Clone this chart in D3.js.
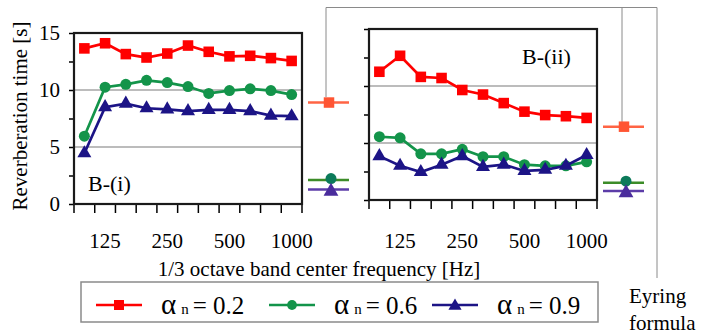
<!DOCTYPE html>
<html>
<head>
<meta charset="utf-8">
<script src="https://cdn.jsdelivr.net/npm/d3@7"></script>
<style>
  html, body { margin: 0; padding: 0; background: #fff; }
  svg text { font-family: "Liberation Serif", "DejaVu Serif", serif; fill: #000; }
</style>
</head>
<body>
<div id="chart"></div>
<script>
// 1/3 octave bands and the labelled ones
const bands = ["100", "125", "160", "200", "250", "315", "400", "500", "630", "800", "1000"];
const tickLabels = ["125", "250", "500", "1000"];

// B-(i) measured reverberation times [s]
const leftRed   = [13.65, 14.1, 13.15, 12.85, 13.2, 13.9, 13.35, 12.95, 13.0, 12.8, 12.55];
const leftGreen = [5.95, 10.25, 10.5, 10.85, 10.65, 10.3, 9.7, 9.95, 10.1, 9.95, 9.6];
const leftBlue  = [4.45, 8.5, 8.8, 8.4, 8.3, 8.15, 8.25, 8.25, 8.15, 7.75, 7.7];

// B-(ii)
const rightRed   = [11.25, 12.65, 10.8, 10.7, 9.65, 9.25, 8.5, 7.75, 7.45, 7.35, 7.2];
const rightGreen = [5.55, 5.45, 4.05, 4.05, 4.45, 3.8, 3.8, 3.1, 3.0, 3.0, 3.35];
const rightBlue  = [3.85, 3.0, 2.45, 3.1, 3.85, 2.9, 3.1, 2.55, 2.65, 3.0, 3.95];

// Eyring formula values (0.2, 0.6, 0.9)
const eyringLeft  = [8.9, 2.1, 1.28];
const eyringRight = [6.43, 1.52, 0.8];

const alphaLabels = ["0.2", "0.6", "0.9"];

const W = 702, H = 336;
const FONT = "'Liberation Serif', 'DejaVu Serif', serif";
const colors = ["#ff0000", "#13944a", "#1c1486"];
const eyLine = ["#ff6444", "#3c8c28", "#5c3ca8"];
const eyMark = ["#ff5533", "#0c7a5a", "#4a2c9c"];
const symbols = [d3.symbolSquare, d3.symbolCircle, d3.symbolTriangle];
const symSize = [112, 95, 85];

const svg = d3.select("#chart").append("svg")
    .attr("width", W)
    .attr("height", H)
    .attr("font-family", FONT);

// gray connector lines to the Eyring label
svg.append("path")
    .attr("d", "M326,7.5H657V278 M622,7.5V122 M326,7.5V97")
    .attr("fill", "none")
    .attr("stroke", "#8a8a8a")
    .attr("stroke-width", 1);

function drawPanel(p) {
    const x = d3.scaleBand().domain(bands).range([p.x0, p.x1]);
    const y = d3.scaleLinear().domain([0, 15]).range([p.y0, p.y1]);
    const g = svg.append("g");

    // gridlines at 5 and 10
    g.selectAll(".grid")
        .data([5, 10])
        .enter().append("line")
        .attr("x1", p.x0).attr("x2", p.x1)
        .attr("y1", d => y(d)).attr("y2", d => y(d))
        .attr("stroke", "#a6a6a6")
        .attr("stroke-width", 1.5);

    // y axis ticks
    const yAxis = d3.axisLeft(y)
        .tickValues([0, 2.5, 5, 7.5, 10, 12.5, 15])
        .tickSize(5)
        .tickPadding(9)
        .tickFormat(d => (p.yLabels && d % 5 === 0) ? d : "");
    const ya = g.append("g")
        .attr("transform", `translate(${p.x0},0)`)
        .call(yAxis)
        .attr("font-family", FONT)
        .attr("font-size", 21);
    ya.select(".domain").remove();
    ya.selectAll("line").attr("stroke", "#000").attr("stroke-width", 1.5);

    // x ticks at band edges
    const edges = bands.map(b => x(b)).concat([p.x1]);
    g.selectAll(".xt")
        .data(edges)
        .enter().append("line")
        .attr("x1", d => d).attr("x2", d => d)
        .attr("y1", p.y0).attr("y2", p.y0 + 9)
        .attr("stroke", "#000")
        .attr("stroke-width", 1.5);

    g.selectAll(".xl")
        .data(tickLabels)
        .enter().append("text")
        .attr("x", d => x(d) + x.bandwidth() / 2)
        .attr("y", 248)
        .attr("text-anchor", "middle")
        .attr("font-size", 21)
        .text(d => d);

    // frame
    g.append("rect")
        .attr("x", p.x0).attr("y", p.y1)
        .attr("width", p.x1 - p.x0).attr("height", p.y0 - p.y1)
        .attr("fill", "none")
        .attr("stroke", "#1a1a1a")
        .attr("stroke-width", 2.2);

    const line = d3.line()
        .x((d, i) => x(bands[i]) + x.bandwidth() / 2)
        .y(d => y(d));

    p.series.forEach((s, k) => {
        g.append("path")
            .datum(s)
            .attr("d", line)
            .attr("fill", "none")
            .attr("stroke", colors[k])
            .attr("stroke-width", 2.7);
        g.selectAll(".m" + k)
            .data(s)
            .enter().append("path")
            .attr("d", d3.symbol().type(symbols[k]).size(symSize[k]))
            .attr("transform", (d, i) => `translate(${x(bands[i]) + x.bandwidth() / 2},${y(d)})`)
            .attr("fill", colors[k]);
    });

    // Eyring markers beside the panel
    p.eyring.forEach((v, k) => {
        g.append("line")
            .attr("x1", p.ex - 21).attr("x2", p.ex + 20)
            .attr("y1", y(v)).attr("y2", y(v))
            .attr("stroke", eyLine[k])
            .attr("stroke-width", 2.5);
        const dy = k === 0 ? 0 : (k === 1 ? -1.5 : 2);
        g.append("path")
            .attr("d", d3.symbol().type(symbols[k]).size(k === 0 ? 110 : 95))
            .attr("transform", `translate(${p.ex + (k === 0 ? 0 : 2)},${y(v) + dy})`)
            .attr("fill", eyMark[k]);
    });

    g.append("text")
        .attr("x", p.tagX).attr("y", p.tagY)
        .attr("font-size", 22)
        .text(p.tag);
}

drawPanel({
    x0: 74, x1: 302, y0: 204, y1: 33,
    series: [leftRed, leftGreen, leftBlue],
    eyring: eyringLeft, ex: 329,
    yLabels: true,
    tag: "B-(i)", tagX: 88, tagY: 191
});

drawPanel({
    x0: 369, x1: 597, y0: 200, y1: 29,
    series: [rightRed, rightGreen, rightBlue],
    eyring: eyringRight, ex: 624,
    yLabels: false,
    tag: "B-(ii)", tagX: 522, tagY: 64
});

// axis titles
svg.append("text")
    .attr("x", 319).attr("y", 276)
    .attr("text-anchor", "middle")
    .attr("font-size", 21)
    .text("1/3 octave band center frequency [Hz]");

svg.append("text")
    .attr("transform", "translate(27,116) rotate(-90)")
    .attr("text-anchor", "middle")
    .attr("font-size", 21)
    .text("Reverberation time [s]");

// Eyring label
svg.append("text").attr("x", 629).attr("y", 303).attr("font-size", 21).text("Eyring");
svg.append("text").attr("x", 629).attr("y", 330).attr("font-size", 21).text("formula");

// legend
const legend = svg.append("g");
legend.append("rect")
    .attr("x", 81).attr("y", 282)
    .attr("width", 517).attr("height", 40)
    .attr("fill", "#fff")
    .attr("stroke", "#8a8a8a")
    .attr("stroke-width", 1.5);

const legX = [96, 269, 432];
alphaLabels.forEach((lab, k) => {
    const lg = legend.append("g").attr("transform", `translate(${legX[k]},305)`);
    lg.append("line")
        .attr("x1", 0).attr("x2", 46)
        .attr("stroke", colors[k])
        .attr("stroke-width", 2.5);
    lg.append("path")
        .attr("d", d3.symbol().type(symbols[k]).size(k === 0 ? 100 : 75))
        .attr("transform", `translate(23,${k === 2 ? 1 : 0})`)
        .attr("fill", colors[k]);
    const t = lg.append("text")
        .attr("x", 65).attr("y", 9);
    t.append("tspan").attr("font-size", 29).text("α");
    t.append("tspan").attr("dx", 5).attr("font-size", 15).text("n");
    t.append("tspan").attr("dx", 4).attr("font-size", 25).text("= " + lab);
});
</script>
</body>
</html>
